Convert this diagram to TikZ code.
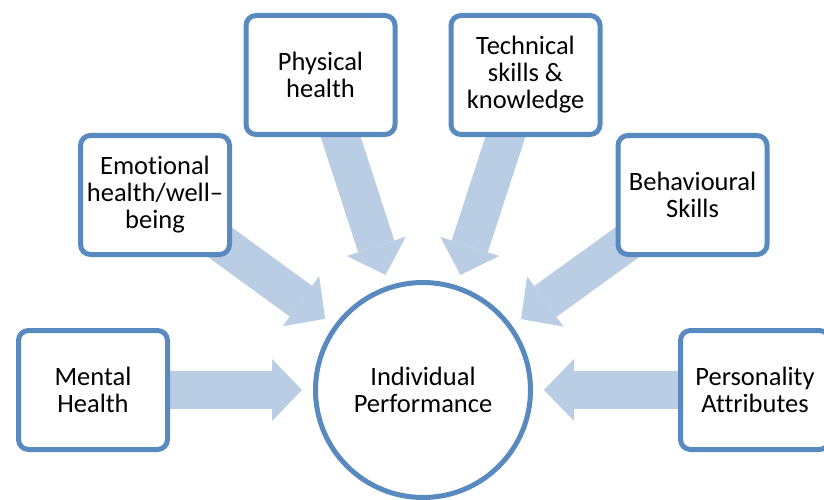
\documentclass[tikz,border=0pt]{standalone}
\usepackage{fontspec}
\setmainfont{Carlito}[Ligatures=NoCommon]
\usetikzlibrary{arrows.meta}
\usetikzlibrary{positioning}
\usetikzlibrary{backgrounds}
\definecolor{boxline}{RGB}{88,138,192}
\definecolor{arrowfill}{RGB}{185,205,229}
\tikzstyle{factor} = [draw=boxline, line width=5pt, fill=white, rectangle,
    rounded corners=10pt, minimum width=149pt, minimum height=119pt,
    align=center, inner sep=2pt]
\tikzstyle{hub} = [draw=boxline, line width=5pt, fill=white, circle,
    minimum size=215pt, align=center]
\tikzstyle{feed} = [draw=arrowfill, line width=38pt,
    -{Triangle[length=30pt,width=62pt,line width=0pt]}, shorten >=11pt]

\begin{document}
\begin{tikzpicture}[x=1pt, y=-1pt, font=\fontsize{26.5}{27}\selectfont]
    \useasboundingbox (0,0) rectangle (824,500);
    % the circle in the middle first, then the factors round it
    \node [hub] (perf) at (423,390) {Individual\\Performance};
    \node [factor, left of=perf, node distance=330pt] (mental) {Mental\\Health};
    \node [factor, right of=perf, node distance=332pt] (persona) {Personality\\Attributes};
    \node [factor] (emotion) at (155,195) {Emotional\\health/well--\\being};
    \node [factor] (physical) at (320.5,75) {Physical\\health};
    \node [factor] (technical) at (525.5,75) {Technical\\skills \&\\knowledge};
    \node [factor] (behaviour) at (692.5,195) {Behavioural\\Skills};
    % the wide arrows go behind the boxes
    \begin{scope}[on background layer]
      \foreach \src in {mental,emotion,physical,technical,behaviour,persona}
        \draw [feed] (\src.center) -- (perf);
    \end{scope}
\end{tikzpicture}
\end{document}
